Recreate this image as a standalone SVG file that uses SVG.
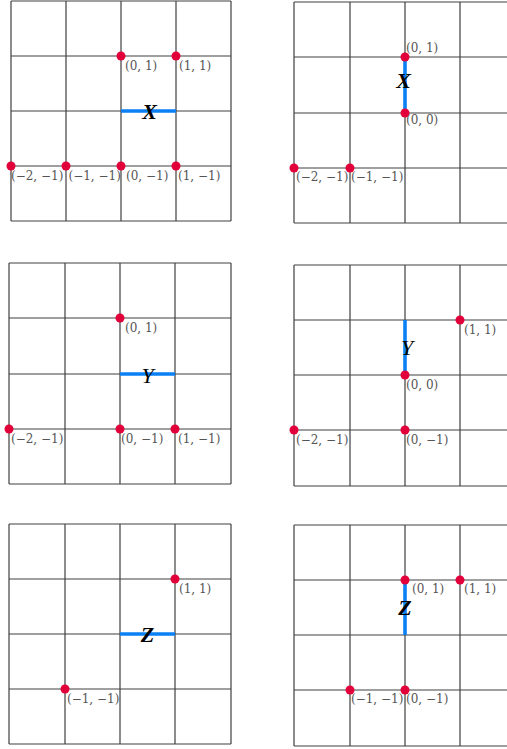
<svg xmlns="http://www.w3.org/2000/svg" width="507" height="749" viewBox="0 0 507 749">
<style>
.grid{stroke:#404040;stroke-width:1.2;fill:none}
.edge{stroke:#0a80f4;stroke-width:3.6;fill:none}
.dot{fill:#e2003a}
.lbl{font-family:"DejaVu Serif","Liberation Serif",serif;font-size:12px;fill:#555}
.v{font-family:"Liberation Serif","Times New Roman",serif;font-size:22px;font-style:italic;fill:#000}
.b{font-weight:bold}
</style>
<rect width="507" height="749" fill="#fff"/>
<g id="panel-1">
<path class="grid" d="M11 1V221M66 1V221M121 1V221M176 1V221M231 1V221M11 1H231M11 56H231M11 111H231M11 166H231M11 221H231"/>
<g id="edge-1"><line class="edge" x1="121" y1="111" x2="176" y2="111"/><text class="v b" x="149.5" y="119" text-anchor="middle">X</text></g>
<g id="p1-dots">
<circle class="dot" cx="121" cy="56" r="4.5"/><circle class="dot" cx="176" cy="56" r="4.5"/>
<circle class="dot" cx="11" cy="166" r="4.5"/><circle class="dot" cx="66" cy="166" r="4.5"/>
<circle class="dot" cx="121" cy="166" r="4.5"/><circle class="dot" cx="176" cy="166" r="4.5"/>
</g>
<g class="lbl">
<text x="125" y="70">(0, 1)</text><text x="179" y="70">(1, 1)</text>
<text x="11" y="180">(−2, −1)</text><text x="68.5" y="180">(−1, −1)</text>
<text x="126" y="180">(0, −1)</text><text x="178" y="180">(1, −1)</text>
</g>
</g>
<g id="panel-2">
<path class="grid" d="M294 2V223M350 2V223M405 2V223M460 2V223M294 2H515M294 57H515M294 113H515M294 168H515M294 223H515"/>
<g id="edge-2"><line class="edge" x1="405" y1="57" x2="405" y2="113"/><text class="v b" x="403.5" y="88" text-anchor="middle">X</text></g>
<g id="p2-dots">
<circle class="dot" cx="405" cy="57" r="4.5"/><circle class="dot" cx="405" cy="113" r="4.5"/>
<circle class="dot" cx="294" cy="168" r="4.5"/><circle class="dot" cx="350" cy="168" r="4.5"/>
</g>
<g class="lbl">
<text x="406" y="52">(0, 1)</text><text x="406" y="124">(0, 0)</text>
<text x="296" y="181">(−2, −1)</text><text x="351" y="181">(−1, −1)</text>
</g>
</g>
<g id="panel-3">
<path class="grid" d="M9 263V484M65 263V484M120 263V484M175 263V484M231 263V484M9 263H231M9 318H231M9 374H231M9 429H231M9 484H231"/>
<g id="edge-3"><line class="edge" x1="120" y1="374" x2="175" y2="374"/><text class="v" x="147.5" y="383" text-anchor="middle">Y</text></g>
<g id="p3-dots">
<circle class="dot" cx="120" cy="318" r="4.5"/><circle class="dot" cx="9" cy="429" r="4.5"/>
<circle class="dot" cx="120" cy="429" r="4.5"/><circle class="dot" cx="175" cy="429" r="4.5"/>
</g>
<g class="lbl">
<text x="125" y="332">(0, 1)</text>
<text x="11" y="443">(−2, −1)</text><text x="121" y="443">(0, −1)</text><text x="178" y="443">(1, −1)</text>
</g>
</g>
<g id="panel-4">
<path class="grid" d="M294 265V486M350 265V486M405 265V486M460 265V486M294 265H515M294 320H515M294 375H515M294 430H515M294 486H515"/>
<g id="edge-4"><line class="edge" x1="405" y1="320" x2="405" y2="375"/><text class="v" x="407" y="355" text-anchor="middle">Y</text></g>
<g id="p4-dots">
<circle class="dot" cx="460" cy="320" r="4.5"/><circle class="dot" cx="405" cy="375" r="4.5"/>
<circle class="dot" cx="294" cy="430" r="4.5"/><circle class="dot" cx="405" cy="430" r="4.5"/>
</g>
<g class="lbl">
<text x="464" y="334">(1, 1)</text><text x="406" y="389">(0, 0)</text>
<text x="296" y="444">(−2, −1)</text><text x="406" y="444">(0, −1)</text>
</g>
</g>
<g id="panel-5">
<path class="grid" d="M9 524V744M65 524V744M120 524V744M175 524V744M231 524V744M9 524H231M9 579H231M9 634H231M9 689H231M9 744H231"/>
<g id="edge-5"><line class="edge" x1="120" y1="634" x2="175" y2="634"/><text class="v b" x="147.5" y="642" text-anchor="middle">Z</text></g>
<g id="p5-dots">
<circle class="dot" cx="175" cy="579" r="4.5"/><circle class="dot" cx="65" cy="689" r="4.5"/>
</g>
<g class="lbl">
<text x="179" y="593">(1, 1)</text><text x="67" y="703">(−1, −1)</text>
</g>
</g>
<g id="panel-6">
<path class="grid" d="M294 525V746M350 525V746M405 525V746M460 525V746M294 525H515M294 580H515M294 635H515M294 690H515M294 746H515"/>
<g id="edge-6"><line class="edge" x1="405" y1="580" x2="405" y2="635"/><text class="v b" x="405" y="615" text-anchor="middle">Z</text></g>
<g id="p6-dots">
<circle class="dot" cx="405" cy="580" r="4.5"/><circle class="dot" cx="460" cy="580" r="4.5"/>
<circle class="dot" cx="350" cy="690" r="4.5"/><circle class="dot" cx="405" cy="690" r="4.5"/>
</g>
<g class="lbl">
<text x="412" y="593">(0, 1)</text><text x="464" y="593">(1, 1)</text>
<text x="351" y="703">(−1, −1)</text><text x="406" y="703">(0, −1)</text>
</g>
</g>
</svg>
